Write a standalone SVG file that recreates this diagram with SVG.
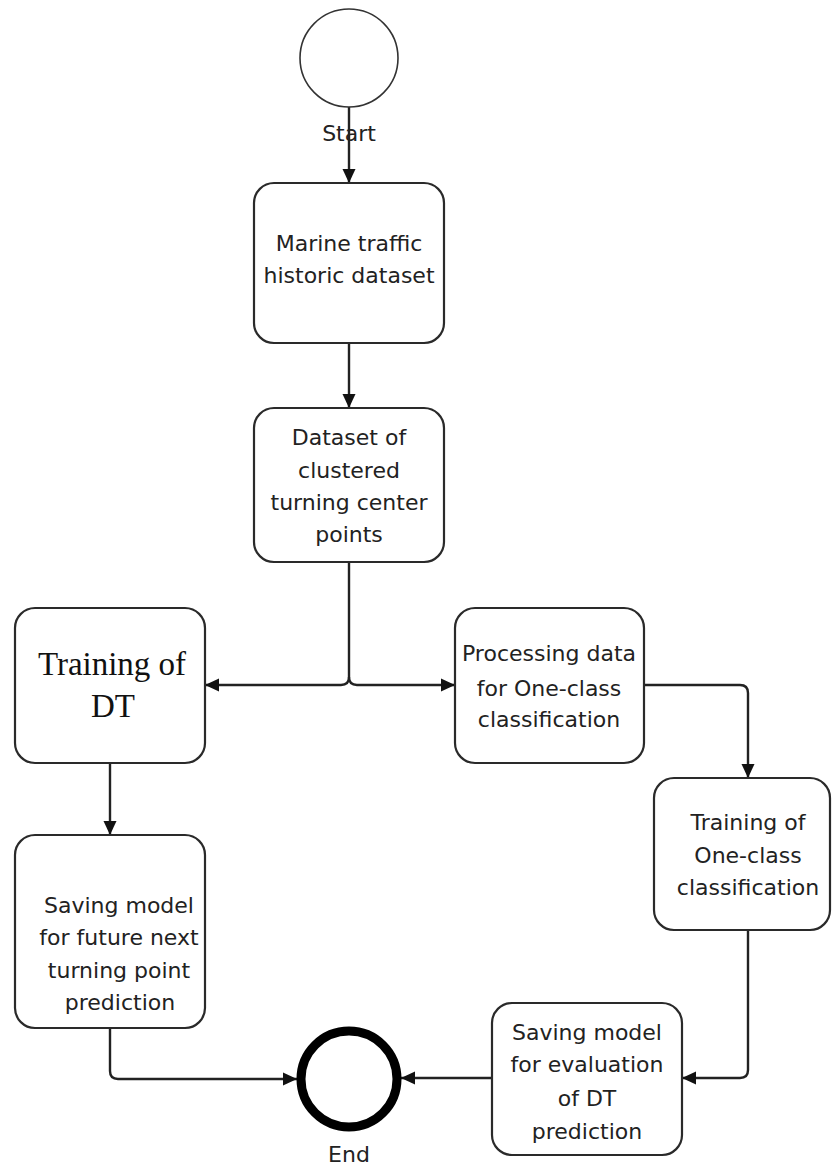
<svg xmlns="http://www.w3.org/2000/svg" width="832" height="1165" viewBox="0 0 832 1165">
<defs>
<marker id="arr" markerUnits="userSpaceOnUse" markerWidth="16" markerHeight="14" refX="14" refY="7" orient="auto">
<path d="M0,0.5 L14,7 L0,13.5 Z" fill="#111"/>
</marker>
<style>
.box{fill:#fff;stroke:#2a2a2a;stroke-width:2.2}
.t{font-family:"DejaVu Sans",sans-serif;font-size:22px;fill:#222;text-anchor:middle}
.s{font-family:"Liberation Serif",serif;font-size:33px;fill:#111;text-anchor:middle}
.c{fill:none;stroke:#222;stroke-width:2.4}
</style>
</defs>
<rect width="832" height="1165" fill="#fff"/>
<g id="connectors">
<path class="c" d="M349,107 V183" marker-end="url(#arr)"/>
<path class="c" d="M349,343 V408" marker-end="url(#arr)"/>
<path class="c" d="M349,562 V677 Q349,685 341,685 H205" marker-end="url(#arr)"/>
<path class="c" d="M349,677 Q349,685 357,685 H455" marker-end="url(#arr)"/>
<path class="c" d="M644,685 H740 Q748,685 748,693 V778" marker-end="url(#arr)"/>
<path class="c" d="M110,763 V835" marker-end="url(#arr)"/>
<path class="c" d="M110,1028 V1071 Q110,1079 118,1079 H297" marker-end="url(#arr)"/>
<path class="c" d="M748,930 V1070 Q748,1078 740,1078 H682" marker-end="url(#arr)"/>
<path class="c" d="M492,1078 H401" marker-end="url(#arr)"/>
</g>
<g id="start">
<circle cx="349" cy="58" r="49" fill="#fff" stroke="#333" stroke-width="1.6"/>
<text class="t" x="349" y="141">Start</text>
</g>
<g id="marine">
<rect class="box" x="254" y="183" width="190" height="160" rx="20"/>
<text class="t" x="349" y="251">Marine traffic</text>
<text class="t" x="349" y="283">historic dataset</text>
</g>
<g id="dataset">
<rect class="box" x="254" y="408" width="190" height="154" rx="20"/>
<text class="t" x="349" y="445">Dataset of</text>
<text class="t" x="349" y="478">clustered</text>
<text class="t" x="349" y="510">turning center</text>
<text class="t" x="349" y="542">points</text>
</g>
<g id="trainDT">
<rect class="box" x="15" y="608" width="190" height="155" rx="20"/>
<text class="s" x="112" y="675">Training of</text>
<text class="s" x="113" y="717">DT</text>
</g>
<g id="processing">
<rect class="box" x="455" y="608" width="189" height="155" rx="20"/>
<text class="t" x="549" y="661">Processing data</text>
<text class="t" x="549" y="696">for One-class</text>
<text class="t" x="549" y="727">classification</text>
</g>
<g id="trainOC">
<rect class="box" x="654" y="778" width="176" height="152" rx="20"/>
<text class="t" x="748" y="830">Training of</text>
<text class="t" x="748" y="863">One-class</text>
<text class="t" x="748" y="895">classification</text>
</g>
<g id="saveFuture">
<rect class="box" x="15" y="835" width="190" height="193" rx="20"/>
<text class="t" x="119" y="913">Saving model</text>
<text class="t" x="119" y="945">for future next</text>
<text class="t" x="119" y="978">turning point</text>
<text class="t" x="120" y="1010">prediction</text>
</g>
<g id="saveEval">
<rect class="box" x="492" y="1003" width="190" height="152" rx="20"/>
<text class="t" x="587" y="1040">Saving model</text>
<text class="t" x="587" y="1072">for evaluation</text>
<text class="t" x="587" y="1106">of DT</text>
<text class="t" x="587" y="1139">prediction</text>
</g>
<g id="end">
<circle cx="349" cy="1079" r="48" fill="#fff" stroke="#000" stroke-width="9"/>
<text class="t" x="349" y="1162">End</text>
</g>
</svg>
